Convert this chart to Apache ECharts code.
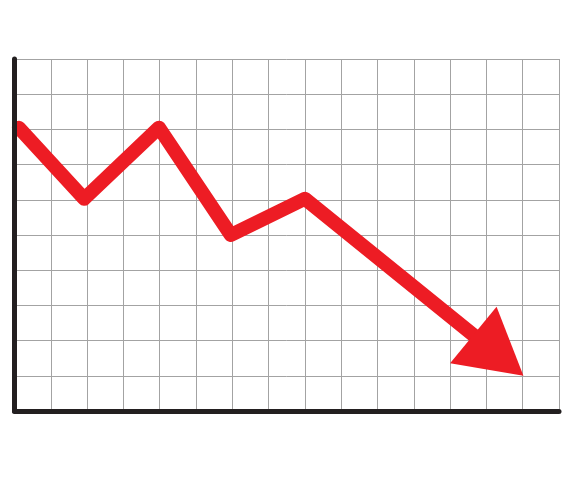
<!DOCTYPE html>
<html>
<head>
<meta charset="utf-8">
<script src="https://cdn.jsdelivr.net/npm/echarts@6/dist/echarts.min.js"></script>
<style>
  html, body { margin: 0; padding: 0; background: #fff; }
  #chart { width: 580px; height: 479px; }
</style>
</head>
<body>
<div id="chart"></div>
<script>
// line points (grid units: 15 columns x 10 rows)
const lineX = [0.12, 1.92, 3.98, 5.96, 8.0, 12.64];
const lineY = [8.05, 6.03, 8.05, 5.0, 6.03, 2.16];

// arrow head: tip, upper corner, lower corner
const arrowX = [14.02, 13.28, 12.0];
const arrowY = [1.0, 2.96, 1.36];

const xMax = 15;
const yMax = 10;

const chart = echarts.init(document.getElementById("chart"));

const red = "#ed1c24";
const gridGrey = "#a3a3a3";
const axisBlack = "#231f20";

const option = {
  animation: false,
  backgroundColor: "#ffffff",
  grid: { left: 14.5, right: 21, top: 59, bottom: 68 },
  xAxis: [
    {
      type: "value", min: 0, max: xMax, interval: 1,
      axisLine: { show: false }, axisTick: { show: false }, axisLabel: { show: false },
      splitLine: { show: true, lineStyle: { color: gridGrey, width: 1 } },
    },
    {
      type: "value", min: 0, max: xMax, interval: 1, position: "bottom", z: 5,
      axisLine: { show: true, lineStyle: { color: axisBlack, width: 5 } },
      axisTick: { show: false }, axisLabel: { show: false }, splitLine: { show: false },
    },
  ],
  yAxis: [
    {
      type: "value", min: 0, max: yMax, interval: 1,
      axisLine: { show: false }, axisTick: { show: false }, axisLabel: { show: false },
      splitLine: { show: true, lineStyle: { color: gridGrey, width: 1 } },
    },
    {
      type: "value", min: 0, max: yMax, interval: 1, position: "left", z: 5,
      axisLine: { show: true, lineStyle: { color: axisBlack, width: 5 } },
      axisTick: { show: false }, axisLabel: { show: false }, splitLine: { show: false },
    },
  ],
  series: [
    {
      type: "line",
      xAxisIndex: 0,
      yAxisIndex: 0,
      z: 2,
      symbol: "none",
      data: lineX.map((x, i) => [x, lineY[i]]),
      lineStyle: { color: red, width: 14, cap: "round", join: "round" },
    },
    {
      type: "custom",
      xAxisIndex: 0,
      yAxisIndex: 0,
      z: 3,
      data: arrowX.map((x, i) => [x, arrowY[i]]),
      renderItem: (params, api) => {
        if (params.dataIndex !== 0) return null;
        const pts = arrowX.map((x, i) => api.coord([x, arrowY[i]]));
        return {
          type: "polygon",
          shape: { points: pts },
          style: { fill: red },
        };
      },
    },
  ],
};

chart.setOption(option);
</script>
</body>
</html>
